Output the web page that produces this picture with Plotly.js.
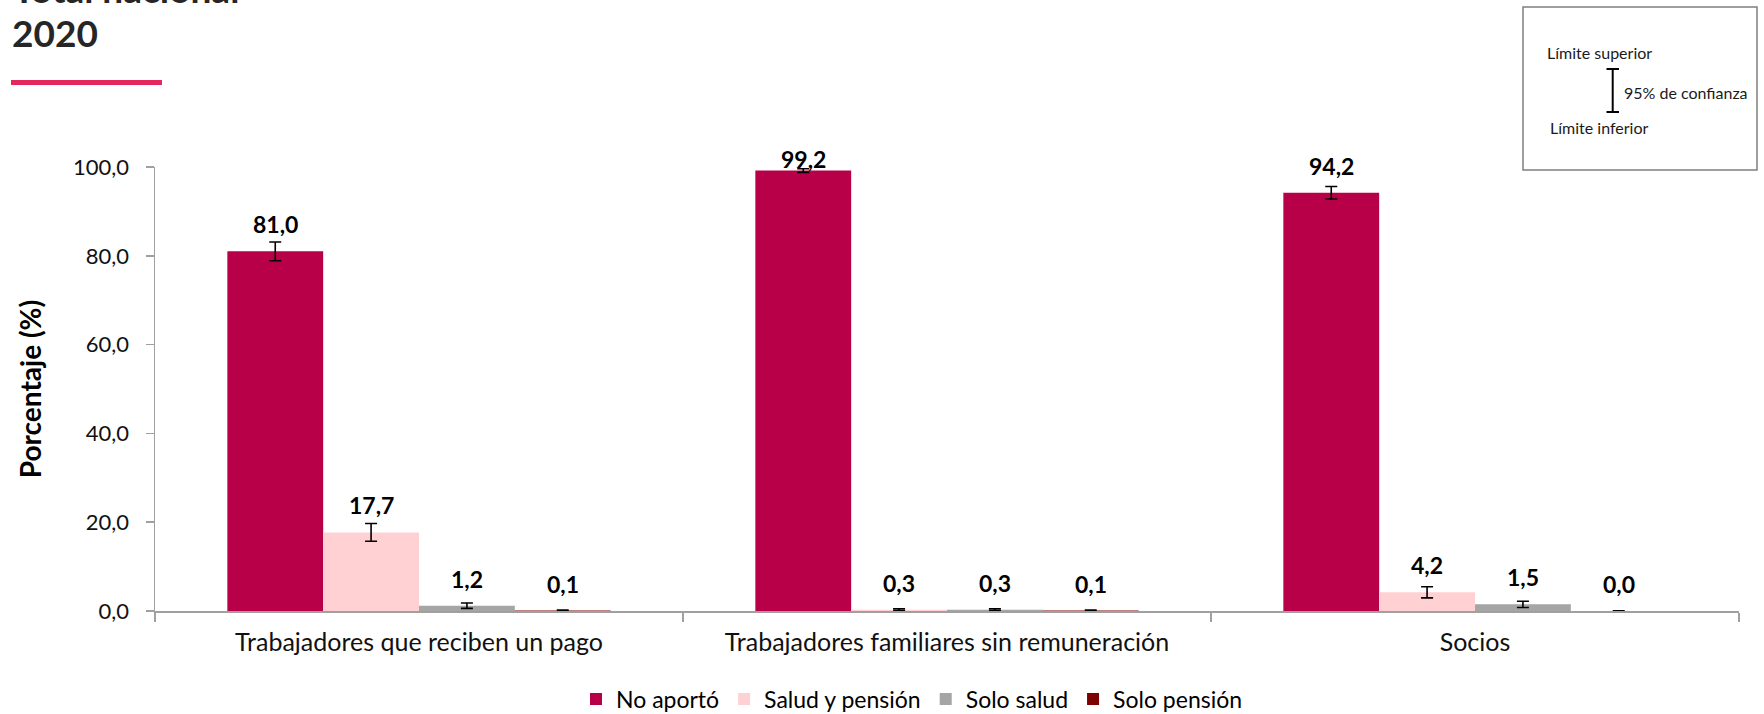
<!DOCTYPE html>
<html>
<head>
<meta charset="utf-8">
<script src="https://cdn.plot.ly/plotly-3.0.1.min.js"></script>
<style>
  html, body { margin: 0; padding: 0; background: #ffffff; }
  #chart { width: 1764px; height: 714px; }
</style>
</head>
<body>
<div id="chart"></div>
<script>
// ---- Data ----
const categories = [
  'Trabajadores que reciben un pago',
  'Trabajadores familiares sin remuneración',
  'Socios'
];
const seriesNames = ['No aportó', 'Salud y pensión', 'Solo salud', 'Solo pensión'];
const noAporto       = [81.0, 99.2, 94.2];
const noAportoErr    = [2.1, 0.4, 1.4];
const saludPension   = [17.7, 0.3, 4.2];
const saludPensionErr= [2.0, 0.2, 1.25];
const soloSalud      = [1.2, 0.3, 1.5];
const soloSaludErr   = [0.6, 0.2, 0.7];
const soloPension    = [0.1, 0.1, 0.0];
const soloPensionErr = [0.1, 0.1, 0.05];
const yTickValues    = [0, 20, 40, 60, 80, 100];
const titleLines     = ['Total nacional', '2020'];
const boxTexts       = ['Límite superior', '95% de confianza', 'Límite inferior'];
const axisTitle      = 'Porcentaje (%)';

// ---- Styling / layout ----
const colors = ['#B80049', '#FFD1D3', '#A5A5A5', '#7F0000'];
const W = 1764, H = 714;
const M = {l: 155, r: 25, t: 167, b: 103, autoexpand: false};
const plotW = W - M.l - M.r, plotH = H - M.t - M.b;
const bargap = 0.274;
const FONT = 'Lato, "Open Sans", sans-serif';

const values = [noAporto, saludPension, soloSalud, soloPension];
const errs = [noAportoErr, saludPensionErr, soloSaludErr, soloPensionErr];

const traces = values.map((vals, i) => ({
  type: 'bar',
  name: seriesNames[i],
  x: categories,
  y: vals,
  marker: {color: colors[i], line: {width: 0}},
  error_y: {type: 'data', array: errs[i], visible: true, color: '#000000', thickness: 1.6, width: 6},
  hoverinfo: 'x+y+name'
}));

// pixel helpers from layout
const yRange = [0, 100];
const pxPerUnit = plotH / (yRange[1] - yRange[0]);
const groupPx = plotW / categories.length;
const barPx = groupPx * (1 - bargap) / values.length;
const px2paperX = px => (px - M.l) / plotW;
const px2paperY = py => (H - M.b - py) / plotH;

const fmt = v => v.toFixed(1).replace('.', ',');

const annotations = [];
values.forEach((vals, si) => {
  vals.forEach((v, ci) => {
    const headroom = (yRange[1] - v) * pxPerUnit;
    annotations.push({
      xref: 'x', yref: 'y', x: categories[ci], y: v,
      xshift: (si - (values.length - 1) / 2) * barPx,
      yshift: Math.min(11, headroom - 8),
      yanchor: 'bottom', xanchor: 'center',
      text: '<b>' + fmt(v) + '</b>', showarrow: false,
      font: {family: FONT, size: 23, color: '#000000'}
    });
  });
});

// Title (top-left, partially cut as in the reference)
annotations.push({
  xref: 'paper', yref: 'paper', x: px2paperX(11), y: px2paperY(-12),
  xanchor: 'left', yanchor: 'middle', showarrow: false,
  text: '<b>' + titleLines[0] + '</b>',
  font: {family: FONT, size: 37, color: '#262626'}
});
annotations.push({
  xref: 'paper', yref: 'paper', x: px2paperX(10), y: px2paperY(32.5),
  xanchor: 'left', yanchor: 'middle', showarrow: false,
  text: '<b>' + titleLines[1] + '</b>',
  font: {family: FONT, size: 37, color: '#262626'}
});
// Confidence box texts
const boxFont = {family: FONT, size: 16, color: '#1a1a1a'};
annotations.push({xref: 'paper', yref: 'paper', x: px2paperX(1545), y: px2paperY(53), xanchor: 'left', yanchor: 'middle', showarrow: false, text: boxTexts[0], font: boxFont});
annotations.push({xref: 'paper', yref: 'paper', x: px2paperX(1622), y: px2paperY(92), xanchor: 'left', yanchor: 'middle', showarrow: false, text: boxTexts[1], font: boxFont});
annotations.push({xref: 'paper', yref: 'paper', x: px2paperX(1548), y: px2paperY(128), xanchor: 'left', yanchor: 'middle', showarrow: false, text: boxTexts[2], font: boxFont});

const shapes = [
  // red underline under title
  {type: 'line', xref: 'paper', yref: 'paper', x0: px2paperX(11), x1: px2paperX(162), y0: px2paperY(82.5), y1: px2paperY(82.5), line: {color: '#E2285E', width: 5}},
  // confidence legend box
  {type: 'rect', xref: 'paper', yref: 'paper', x0: px2paperX(1523), x1: px2paperX(1757), y0: px2paperY(170), y1: px2paperY(7), line: {color: '#7F7F7F', width: 1.5}, fillcolor: 'rgba(0,0,0,0)'},
  // error bar glyph
  {type: 'line', xref: 'paper', yref: 'paper', x0: px2paperX(1612.7), x1: px2paperX(1612.7), y0: px2paperY(69), y1: px2paperY(112), line: {color: '#000', width: 2}},
  {type: 'line', xref: 'paper', yref: 'paper', x0: px2paperX(1606.5), x1: px2paperX(1619), y0: px2paperY(69), y1: px2paperY(69), line: {color: '#000', width: 2}},
  {type: 'line', xref: 'paper', yref: 'paper', x0: px2paperX(1606.5), x1: px2paperX(1619), y0: px2paperY(112), y1: px2paperY(112), line: {color: '#000', width: 2}}
];

const layout = {
  width: W, height: H,
  margin: M,
  paper_bgcolor: '#ffffff', plot_bgcolor: '#ffffff',
  separators: ',.',
  barmode: 'group', bargap: bargap, bargroupgap: 0,
  showlegend: true,
  legend: {
    orientation: 'h', x: px2paperX(576), xanchor: 'left', y: px2paperY(699), yanchor: 'middle',
    font: {family: FONT, size: 23, color: '#000'},
    itemwidth: 30, traceorder: 'normal'
  },
  xaxis: {
    type: 'category', showgrid: false, zeroline: false, automargin: false,
    showline: true, linecolor: '#A0A0A0', linewidth: 1.5,
    ticks: 'outside', tickson: 'boundaries', ticklen: 9, tickcolor: '#A0A0A0', tickwidth: 1.5,
    tickfont: {family: FONT, size: 25, color: '#111'},
    ticklabelstandoff: 8
  },
  yaxis: {
    range: yRange, tickvals: yTickValues, tickformat: '.1f', automargin: false,
    showgrid: false, zeroline: false,
    showline: true, linecolor: '#A0A0A0', linewidth: 1.5,
    ticks: 'outside', ticklen: 8, tickcolor: '#A0A0A0', tickwidth: 1.5,
    tickfont: {family: FONT, size: 22, color: '#111'},
    ticklabelstandoff: 12,
    title: {text: '<b>' + axisTitle + '</b>', font: {family: FONT, size: 28, color: '#000'}, standoff: 23}
  },
  annotations: annotations,
  shapes: shapes
};

Plotly.newPlot('chart', traces, layout, {displayModeBar: false, staticPlot: true});
</script>
</body>
</html>
